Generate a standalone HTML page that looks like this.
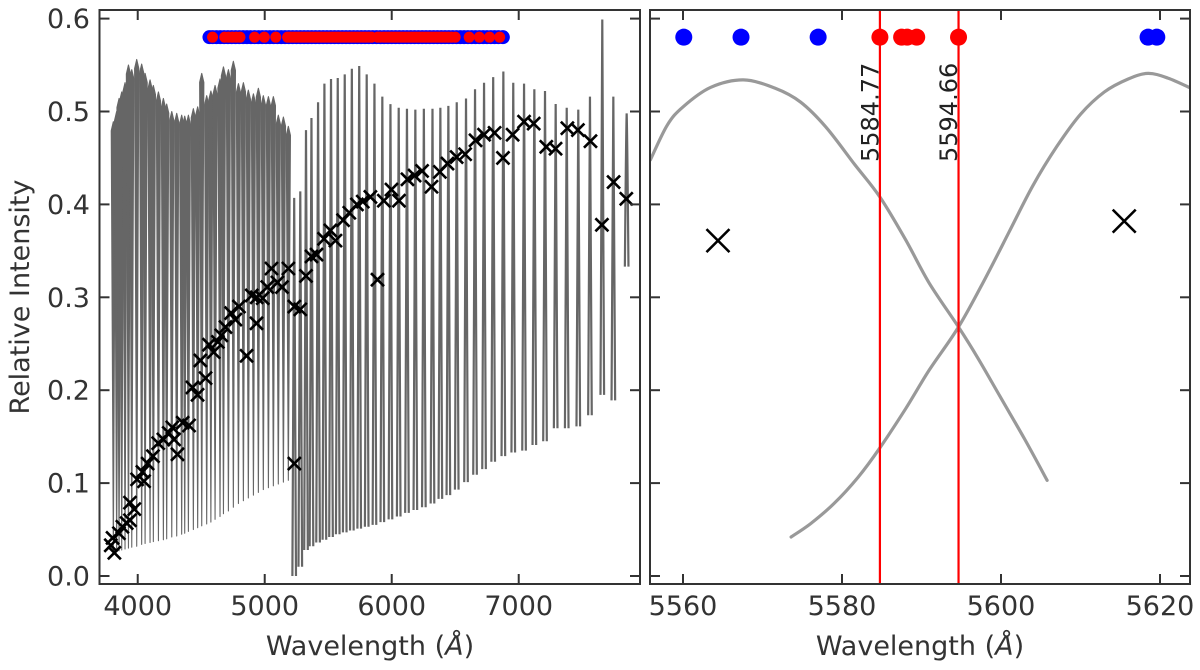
<!DOCTYPE html>
<html><head><meta charset="utf-8"><style>
html,body{margin:0;padding:0;background:#fff;}
svg{display:block;font-family:"DejaVu Sans","Liberation Sans",sans-serif;}
</style></head><body>
<svg id="chart" width="1200" height="670" viewBox="0 0 1200 670" xmlns="http://www.w3.org/2000/svg">
<defs>
<clipPath id="clipL"><rect x="99.5" y="10" width="540.5" height="574"/></clipPath>
<clipPath id="clipR"><rect x="650" y="10" width="540" height="574"/></clipPath>
</defs>
<g id="left-marks" clip-path="url(#clipL)"></g>
<g id="right-marks" clip-path="url(#clipR)"></g>
<g id="axes"></g>
<text transform="translate(29,297) rotate(-90)" text-anchor="middle" font-size="27" fill="#333">Relative Intensity</text>
<text x="370" y="655" text-anchor="middle" font-size="27" fill="#333">Wavelength (<tspan font-style="italic">Å</tspan>)</text>
<text x="920" y="655" text-anchor="middle" font-size="27" fill="#333">Wavelength (<tspan font-style="italic">Å</tspan>)</text>
</svg>
<script>
// ---- Left panel data ----
const s1Wave=[3808,3834,3853,3874,3900,3927,3953,3992,4031,4058,4097,4123,4163,4202,4228,4268,4307,4346,4370,4399,4438,4472,4504,4543,4576,4609,4648,4675,4714,4753,4793,4832,4871,4911,4950,4989,5029,5068,5107,5147,5186];
const s1Peak=[0.489,0.500,0.514,0.521,0.531,0.550,0.545,0.556,0.551,0.541,0.534,0.528,0.521,0.514,0.508,0.500,0.498,0.496,0.495,0.496,0.503,0.505,0.541,0.517,0.522,0.528,0.535,0.548,0.545,0.554,0.530,0.531,0.523,0.519,0.525,0.517,0.516,0.516,0.496,0.494,0.484];
const s1Base=[0.025,0.026,0.027,0.028,0.029,0.030,0.031,0.032,0.034,0.035,0.036,0.037,0.038,0.039,0.040,0.042,0.043,0.045,0.046,0.048,0.050,0.052,0.054,0.056,0.058,0.061,0.064,0.067,0.070,0.074,0.078,0.081,0.084,0.087,0.090,0.093,0.095,0.097,0.099,0.101,0.103];
const s2Wave=[5232,5280,5325,5368,5420,5470,5522,5575,5630,5686,5744,5803,5864,5926,5990,6055,6120,6186,6253,6321,6383,6446,6512,6585,6656,6727,6799,6879,6957,7042,7123,7207,7291,7378,7469,7561,7658,7745,7850];
const s2Peak=[0.407,0.414,0.480,0.493,0.510,0.530,0.535,0.536,0.540,0.546,0.549,0.540,0.530,0.516,0.508,0.504,0.503,0.502,0.503,0.503,0.504,0.506,0.510,0.514,0.524,0.531,0.537,0.543,0.531,0.530,0.524,0.522,0.508,0.504,0.502,0.516,0.599,0.516,0.498];
const s2Base=[0.000,0.010,0.028,0.032,0.036,0.039,0.042,0.045,0.047,0.049,0.051,0.053,0.055,0.058,0.061,0.064,0.068,0.071,0.074,0.078,0.083,0.087,0.093,0.101,0.109,0.115,0.123,0.129,0.133,0.135,0.141,0.145,0.159,0.159,0.161,0.173,0.195,0.189,0.333];
const crossW=[3788,3802,3816,3852,3879,3913,3939,3939,3973,3995,4037,4050,4078,4120,4161,4202,4244,4272,4286,4313,4354,4404,4431,4471,4493,4534,4561,4598,4631,4658,4691,4735,4769,4797,4857,4898,4935,4937,4984,5020,5053,5100,5136,5186,5233,5233,5280,5325,5368,5408,5467,5517,5557,5617,5666,5726,5772,5832,5888,5938,5998,6057,6124,6180,6239,6313,6379,6439,6511,6578,6660,6727,6810,6876,6952,7042,7118,7217,7290,7383,7466,7565,7655,7747,7847];
const crossV=[0.033,0.041,0.025,0.046,0.053,0.057,0.060,0.079,0.072,0.104,0.112,0.102,0.121,0.129,0.143,0.147,0.154,0.160,0.147,0.131,0.165,0.162,0.203,0.195,0.232,0.213,0.249,0.241,0.252,0.259,0.268,0.283,0.276,0.290,0.237,0.302,0.272,0.300,0.299,0.311,0.331,0.316,0.311,0.331,0.290,0.121,0.287,0.323,0.344,0.346,0.363,0.372,0.361,0.383,0.391,0.400,0.403,0.408,0.319,0.404,0.416,0.404,0.427,0.431,0.436,0.419,0.435,0.444,0.451,0.454,0.469,0.475,0.477,0.450,0.475,0.489,0.487,0.462,0.460,0.482,0.480,0.468,0.378,0.424,0.406];
const blueW=[4565,4590,4620,4650,4680,4710,4740,4770,4800,4830,4860,4890,4920,4950,4980,5010,5040,5070,5100,5130,5160,5190,5220,5250,5280,5310,5340,5370,5400,5430,5460,5490,5520,5550,5580,5610,5640,5670,5700,5730,5760,5790,5820,5850,5880,5910,5940,5970,6000,6030,6060,6090,6120,6150,6180,6210,6240,6270,6300,6330,6360,6390,6420,6450,6480,6510,6540,6570,6600,6630,6660,6690,6720,6750,6780,6810,6840,6875];
const redW=[4589,4685,4715,4745,4775,4805,4920,4997,5087,5180,5202,5224,5246,5268,5290,5312,5334,5356,5378,5400,5422,5444,5466,5488,5510,5532,5554,5576,5598,5620,5642,5664,5686,5708,5730,5752,5774,5796,5818,5840,5890,5912,5934,5956,5978,6000,6022,6044,6066,6088,6110,6132,6154,6176,6198,6220,6242,6264,6286,6308,6330,6352,6374,6396,6420,6445,6470,6500,6610,6690,6770,6850];
const dotLevel=0.58;
const leftXTicks=[4000,5000,6000,7000];
const yTicks=[0.0,0.1,0.2,0.3,0.4,0.5,0.6];
const yTickLabels=["0.0","0.1","0.2","0.3","0.4","0.5","0.6"];
// ---- Right panel data ----
const c1Wave=[5555.9,5558,5560,5563.5,5567.6,5571.6,5574.8,5578,5581.6,5584.77,5588,5591,5594.66,5597,5599.9,5603,5605.8];
const c1Val=[0.448,0.485,0.505,0.526,0.534,0.525,0.510,0.483,0.443,0.408,0.362,0.315,0.268,0.236,0.193,0.147,0.103];
const c2Wave=[5573.6,5576,5579,5582,5584.77,5588,5591,5594.66,5598,5601,5604,5607,5610,5613,5616,5618.5,5621,5623.9];
const c2Val=[0.042,0.056,0.078,0.106,0.138,0.180,0.222,0.268,0.320,0.370,0.420,0.462,0.497,0.521,0.535,0.541,0.536,0.525];
const rCrossW=[5564.4,5615.5];
const rCrossV=[0.361,0.382];
const rBlueW=[5560.1,5567.3,5577.0,5618.5,5619.6];
const rRedW=[5584.77,5587.5,5588.2,5589.4,5594.66];
const rLines=[5584.77,5594.66];
const rLineLabels=["5584.77","5594.66"];
const rightXTicks=[5560,5580,5600,5620];

// ---- scales ----
const NS="http://www.w3.org/2000/svg";
function xL(w){return 99.5+(w-3699)*(540.5/4256);}
function xR(w){return 650+(w-5555.85)*7.95;}
function yS(v){return 576-v*929;}
function mk(tag,attrs,parent){const e=document.createElementNS(NS,tag);for(const k in attrs)e.setAttribute(k,attrs[k]);parent.appendChild(e);return e;}
const gL=document.getElementById('left-marks');
const gR=document.getElementById('right-marks');
const gA=document.getElementById('axes');

// series 1 (dense blue orders): narrow filled V shapes
for(let i=0;i<s1Wave.length;i++){
  const x=xL(s1Wave[i]),yb=yS(s1Base[i]),yp=yS(s1Peak[i]),a=2.1;
  const p=mk('polygon',{points:`${x},${yb} ${x-a},${yp+9} ${x},${yp} ${x+a},${yp+9}`,fill:'#666',stroke:'#666','stroke-width':1.1,'stroke-linejoin':'round'},gL);
  
  
}
// series 2 (red orders): narrow spikes
for(let i=0;i<s2Wave.length;i++){
  const x=xL(s2Wave[i]),yb=yS(s2Base[i]),yp=yS(s2Peak[i]);
  const p=mk('path',{d:`M${x-1.8},${yb} Q${x-0.6},${yp+20} ${x},${yp} Q${x+0.6},${yp+20} ${x+1.8},${yb}`,fill:'none',stroke:'#666','stroke-width':2.2},gL);
  
  
}
function cross(g,x,y,s,w,name){
  const p=mk('path',{d:`M${x-s},${y-s}L${x+s},${y+s}M${x-s},${y+s}L${x+s},${y-s}`,stroke:'#000','stroke-width':w,fill:'none'},g);
  
  
}
for(let i=0;i<crossW.length;i++) cross(gL,xL(crossW[i]),yS(crossV[i]),6.5,2.6,'measured-point');
for(let i=0;i<blueW.length;i++){
  const c=mk('circle',{cx:xL(blueW[i]),cy:yS(dotLevel),r:7,fill:'#0000ff'},gL);
  
  
}
for(let i=0;i<redW.length;i++){
  const c=mk('circle',{cx:xL(redW[i]),cy:yS(dotLevel),r:5.5,fill:'#ff0000'},gL);
  
  
}

// right panel: smooth curves (Catmull-Rom)
function smooth(ws,vs){
  const P=ws.map((w,i)=>[xR(w),yS(vs[i])]);
  let d='M'+P[0][0].toFixed(1)+','+P[0][1].toFixed(1);
  for(let i=0;i<P.length-1;i++){
    const p0=P[Math.max(i-1,0)],p1=P[i],p2=P[i+1],p3=P[Math.min(i+2,P.length-1)];
    const c1=[p1[0]+(p2[0]-p0[0])/6,p1[1]+(p2[1]-p0[1])/6];
    const c2=[p2[0]-(p3[0]-p1[0])/6,p2[1]-(p3[1]-p1[1])/6];
    d+=`C${c1[0].toFixed(1)},${c1[1].toFixed(1)} ${c2[0].toFixed(1)},${c2[1].toFixed(1)} ${p2[0].toFixed(1)},${p2[1].toFixed(1)}`;
  }
  return d;
}
const pc1=mk('path',{d:smooth(c1Wave,c1Val),fill:'none',stroke:'#999','stroke-width':3.2,'stroke-linecap':'round','stroke-linejoin':'round'},gR);


const pc2=mk('path',{d:smooth(c2Wave,c2Val),fill:'none',stroke:'#999','stroke-width':3.2,'stroke-linecap':'round','stroke-linejoin':'round'},gR);


for(let i=0;i<rLines.length;i++){
  const x=xR(rLines[i]);
  const l=mk('line',{x1:x,x2:x,y1:10,y2:584,stroke:'#ff0000','stroke-width':2.2},gR);
  
  
  const t=mk('text',{transform:`translate(${x-1.5},162) rotate(-90)`,'font-size':24,fill:'#222'},gR);
  t.textContent=rLineLabels[i];
  
  
}
for(let i=0;i<rCrossW.length;i++) cross(gR,xR(rCrossW[i]),yS(rCrossV[i]),11.5,2.6,'measured-point-zoom');
for(let i=0;i<rBlueW.length;i++){
  const c=mk('circle',{cx:xR(rBlueW[i]),cy:yS(dotLevel),r:8.5,fill:'#0000ff'},gR);
  
  
}
for(let i=0;i<rRedW.length;i++){
  const c=mk('circle',{cx:xR(rRedW[i]),cy:yS(dotLevel),r:8.5,fill:'#ff0000'},gR);
  
  
}

// axes / frames / ticks
function frame(x0,x1,name){
  const r=mk('rect',{x:x0,y:10,width:x1-x0,height:574,fill:'none',stroke:'#333','stroke-width':2},gA);
  
  
}
frame(99.5,640,'left-panel-frame');
frame(650,1190,'right-panel-frame');
function tick(x1,y1,x2,y2){const l=mk('line',{x1:x1,y1:y1,x2:x2,y2:y2,stroke:'#333','stroke-width':2},gA);}
for(let i=0;i<yTicks.length;i++){
  const y=yS(yTicks[i]);
  tick(99.5,y,109.5,y);tick(640,y,630,y);tick(650,y,660,y);tick(1190,y,1180,y);
  const t=mk('text',{x:90,y:y+9.5,'text-anchor':'end','font-size':27,fill:'#333'},gA);
  t.textContent=yTickLabels[i];
  
  
}
for(const w of leftXTicks){
  const x=xL(w);tick(x,584,x,574);tick(x,10,x,20);
  const t=mk('text',{x:x,y:615,'text-anchor':'middle','font-size':27,fill:'#333'},gA);
  t.textContent=String(w);
  
  
}
for(const w of rightXTicks){
  const x=xR(w);tick(x,584,x,574);tick(x,10,x,20);
  const t=mk('text',{x:x,y:615,'text-anchor':'middle','font-size':27,fill:'#333'},gA);
  t.textContent=String(w);
  
  
}
</script>
</body></html>
